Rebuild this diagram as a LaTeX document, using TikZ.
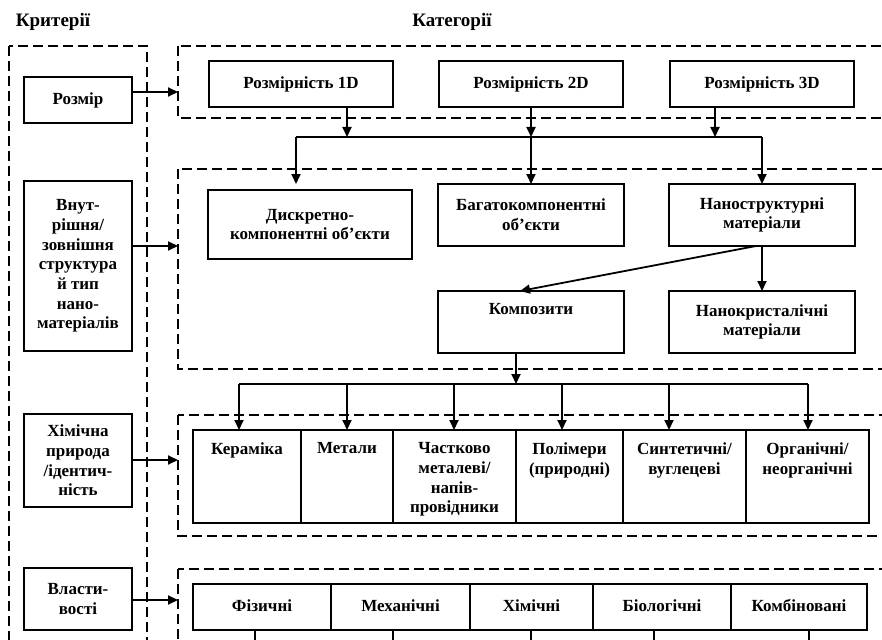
\documentclass[tikz,border=0pt]{standalone}
\usepackage{fontspec}
\setmainfont{Liberation Serif}
\usetikzlibrary{positioning,arrows.meta}

\begin{document}
\begin{tikzpicture}[x=1pt,y=-1pt,node distance=45pt and 45pt]
    \tikzstyle{box}=[draw,line width=1.8pt,outer sep=0pt,inner sep=2pt,align=center,font=\bfseries\fontsize{17}{19.7}\selectfont]
    \tikzstyle{prop}=[box,minimum height=46pt,text height=12pt,text depth=4pt]
    \tikzstyle{toptext}=[anchor=north,align=center,yshift=-9pt,font=\bfseries\fontsize{17}{19.7}\selectfont]
    \tikzstyle{head}=[font=\bfseries\fontsize{19}{22}\selectfont]
    \tikzstyle{frame}=[line width=1.6pt,dash pattern=on 10pt off 5pt]
    \tikzstyle{wire}=[line width=1.8pt]
    \tikzstyle{edge}=[line width=1.8pt,-{Triangle[length=10pt,width=9pt]}]

    \useasboundingbox (0,0) rectangle (882,639);
    \clip (0,0) rectangle (882,639);

    % headings
    \node[head] (crit) at (53,22) {Критерії};
    \node[head] (cat) at (452,22) {Категорії};

    % dashed frames
    \draw[frame] (9,46) rectangle (147,660);
    \draw[frame] (178,46) rectangle (900,118);
    \draw[frame] (178,169) rectangle (900,369);
    \draw[frame] (178,415) rectangle (900,536);
    \draw[frame] (178,569) rectangle (900,660);

    % criteria
    \node[box,minimum width=108pt,minimum height=46pt] (l1) at (78,100) {Розмір};
    \node[box,minimum width=108pt,minimum height=170pt] (l2) at (78,266) {Внут-\\рішня/\\зовнішня\\структура\\й тип\\нано-\\матеріалів};
    \node[box,minimum width=108pt,minimum height=93pt] (l3) at (78,460.5) {Хімічна\\природа\\/ідентич-\\ність};
    \node[box,minimum width=108pt,minimum height=62pt] (l4) at (78,599) {Власти-\\вості};

    \coordinate (t1) at (178,92);
    \coordinate (t2) at (178,246);
    \coordinate (t3) at (178,460);
    \coordinate (t4) at (178,600);
    \draw[edge] (l1.east |- t1) -- (t1);
    \draw[edge] (l2.east |- t2) -- (t2);
    \draw[edge] (l3.east |- t3) -- (t3);
    \draw[edge] (l4.east |- t4) -- (t4);

    % dimensionality
    \node[box,minimum width=184pt,minimum height=46pt] (d1) at (301,84) {Розмірність 1D};
    \node[box,minimum width=184pt,minimum height=46pt] (d2) [right=46pt of d1] {Розмірність 2D};
    \node[box,minimum width=184pt,minimum height=46pt] (d3) [right=47pt of d2] {Розмірність 3D};

    \coordinate (u1) at (347,137);
    \coordinate (u2) at (531,137);
    \coordinate (u3) at (715,137);
    \coordinate (v1) at (296,137);
    \coordinate (v3) at (762,137);
    \coordinate (w1) at (296,184);
    \draw[edge] (u1 |- d1.south) -- (u1);
    \draw[edge] (d2.south) -- (u2);
    \draw[edge] (u3 |- d3.south) -- (u3);
    \draw[wire] (v1) -- (v3);

    % structure
    \node[box,minimum width=204pt,minimum height=69pt] (s1) at (310,224.5) {Дискретно-\\компонентні об’єкти};
    \node[box,minimum width=186pt,minimum height=62pt] (s2) at (531,215) {Багатокомпонентні\\об’єкти};
    \node[box,minimum width=186pt,minimum height=62pt] (s3) [right=of s2] {Наноструктурні\\матеріали};
    \node[box,minimum width=186pt,minimum height=62pt,label={[toptext]north:Композити}] (s4) [below=of s2] {};
    \node[box,minimum width=186pt,minimum height=62pt] (s5) [below=of s3] {Нанокристалічні\\матеріали};

    \draw[edge] (v1) -- (w1);
    \draw[edge] (u2) -- (s2.north);
    \draw[edge] (v3) -- (s3.north);
    \draw[edge] ([xshift=-6pt]s3.south) -- ([xshift=-11pt]s4.north);
    \draw[edge] (s3.south) -- (s5.north);

    % chemical nature
    \node[box,minimum width=108pt,minimum height=93pt,label={[toptext]north:Кераміка}] (c1) at (247,476.5) {};
    \node[box,minimum width=92pt,minimum height=93pt,label={[toptext]north:Метали}] (c2) [right=0pt of c1] {};
    \node[box,minimum width=123pt,minimum height=93pt,label={[toptext]north:Частково\\металеві/\\напів-\\провідники}] (c3) [right=0pt of c2] {};
    \node[box,minimum width=107pt,minimum height=93pt,label={[toptext]north:Полімери\\(природні)}] (c4) [right=0pt of c3] {};
    \node[box,minimum width=123pt,minimum height=93pt,label={[toptext]north:Синтетичні/\\вуглецеві}] (c5) [right=0pt of c4] {};
    \node[box,minimum width=123pt,minimum height=93pt,label={[toptext]north:Органічні/\\неорганічні}] (c6) [right=0pt of c5] {};

    \coordinate (k0) at (516,384);
    \draw[edge] (k0 |- s4.south) -- (k0);
    \foreach \i/\x in {1/239,2/347,3/454,4/562,5/669,6/808}
        \coordinate (k\i) at (\x,384);
    \draw[wire] (k1) -- (k6);
    \foreach \i in {1,...,6}
        \draw[edge] (k\i) -- (k\i |- c1.north);

    % properties
    \node[prop,minimum width=138pt] (p1) at (262,607) {Фізичні};
    \node[prop,minimum width=139pt] (p2) [right=0pt of p1] {Механічні};
    \node[prop,minimum width=123pt] (p3) [right=0pt of p2] {Хімічні};
    \node[prop,minimum width=138pt] (p4) [right=0pt of p3] {Біологічні};
    \node[prop,minimum width=136pt] (p5) [right=0pt of p4] {Комбіновані};

    \foreach \i/\x in {1/255,2/393,3/531,4/654,5/809}
        \coordinate (q\i) at (\x,650);
    \foreach \i in {1,...,5}
        \draw[wire] (q\i |- p1.south) -- (q\i);
\end{tikzpicture}
\end{document}
